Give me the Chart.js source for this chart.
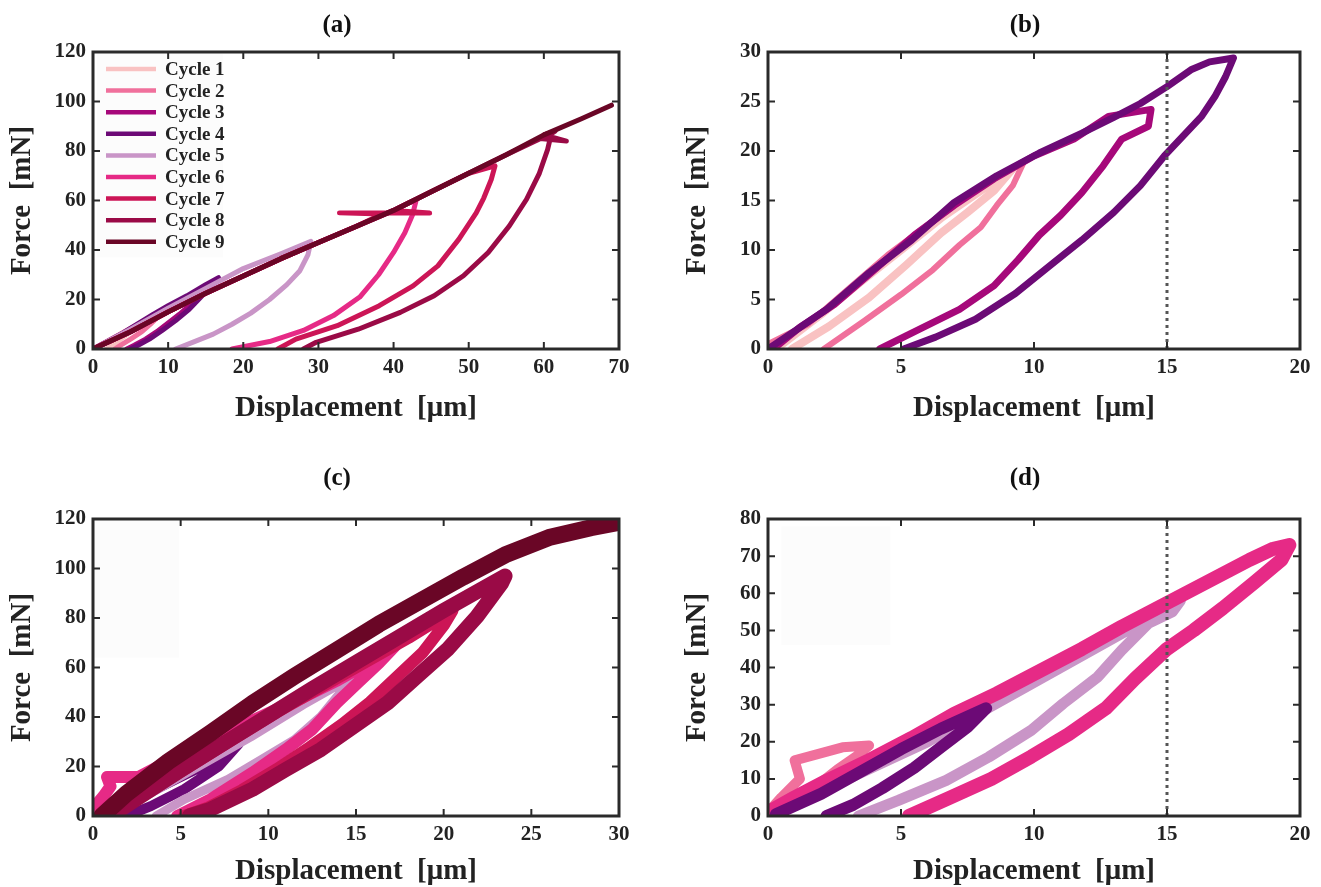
<!DOCTYPE html>
<html>
<head>
<meta charset="utf-8">
<script src="https://cdn.jsdelivr.net/npm/chart.js@4.4.1/dist/chart.umd.min.js"></script>
<style>
  html, body { margin: 0; padding: 0; background: #fff; overflow: hidden; }
  #wrap { position: relative; width: 1321px; height: 887px; overflow: hidden; }
  canvas { position: absolute; }
</style>
</head>
<body>
<div id="wrap">
  <canvas id="chartA" width="674" height="440" style="left:0px;top:0px"></canvas>
  <canvas id="chartB" width="698" height="440" style="left:676px;top:0px"></canvas>
  <canvas id="chartC" width="674" height="447" style="left:0px;top:440px"></canvas>
  <canvas id="chartD" width="698" height="447" style="left:676px;top:440px"></canvas>
</div>
<script>
// ---- data: [displacement um, force mN] ----
const cycleLabels = ['Cycle 1', 'Cycle 2', 'Cycle 3', 'Cycle 4', 'Cycle 5', 'Cycle 6', 'Cycle 7', 'Cycle 8', 'Cycle 9'];
const cycleColors = ['#f9c2c2', '#f0709c', '#a6087a', '#6c0a76', '#c995c7', '#e62a86', '#cc1556', '#9a0a46', '#6a0626'];

// (a) all nine cycles
const aCycle1 = [[0,0],[2,3],[4,6.5],[6,9.8],[7.2,12],[6.5,10.5],[5,7],[3.5,3.5],[1.8,0]];
const aCycle2 = [[0,0],[3,5],[6,10],[8.5,14.5],[10.5,18],[9.8,16],[9,14],[7.8,10.5],[6.5,7],[5,4],[3.8,1.8],[2.9,0]];
const aCycle3 = [[0,0],[4,6],[8,12.5],[12,19],[14.5,23.5],[14,21],[13,18],[11.5,14],[10,10.5],[8.5,7],[7,4],[5.5,1.5],[4.5,0]];
const aCycle4 = [[0,0],[4,6.5],[8,14],[10,17.5],[12.5,21.5],[15,26],[16.7,28.8],[16.2,27],[15.3,24],[14.2,20.5],[12.8,16],[11,11.5],[9.2,7.5],[7.5,4],[6,1.5],[5,0]];
const aCycle5 = [[0,0],[5,8],[10,16.5],[15,24.5],[20,32.5],[25,38.5],[29,43.5],[28.6,38],[27.5,31.5],[25.8,26],[23.5,20],[21,14.5],[18.5,10],[16,6],[13.5,3],[11,0]];
const aCycle6 = [[0,0],[5,7],[10,15],[15,22.5],[20,29.5],[25,36.5],[30,43],[35,49.5],[40,56],[42,59],[43,60],[42.5,54],[41.5,47],[40,39],[38,30],[35.5,21],[32,13.5],[28,7.5],[23.5,3],[18.5,0]];
const aCycle7 = [[0,0],[5,7],[10,15],[15,22.5],[20,29.5],[25,36.5],[30,43],[35,49.5],[38.5,54.5],[32.8,55],[44.8,55],[40,56],[45,63.5],[50,71],[53.5,74],[53,68.5],[52,61],[51,55],[48.7,44.4],[45.9,33.6],[42.6,25.5],[38.1,17.5],[32.5,9.4],[27,4],[24.6,0]];
const aCycle8 = [[0,0],[5,7],[10,15],[15,22.5],[20,29.5],[25,36.5],[30,43],[35,49.5],[40,56],[45,63.5],[50,71],[55,78.5],[59.5,85],[63,84],[60,86.5],[61.5,88],[61,87],[60.5,80.6],[59.4,71],[57.7,60.5],[55.4,49.7],[52.6,39],[49.3,29.6],[45.4,21.5],[40.9,14.8],[35.3,8],[29.7,2.7],[28,0]];
const aCycle9 = [[0,0],[5,7],[10,15],[15,22.5],[20,29.5],[25,36.5],[30,43],[35,49.5],[40,56],[45,63.5],[50,71],[55,78.5],[60,86.5],[65,93],[69,98.5]];

// (b) cycles 1-4
const bCycle1 = [[0.3,0],[2,3.5],[3.5,6.8],[5,10],[6.5,13.2],[8,16],[9.2,18.2],[8.5,16],[7.5,13.8],[6.5,11.7],[5.2,8.5],[3.8,5.2],[2.3,2.3],[0.9,0]];
const bCycle2 = [[0,0.5],[1.5,2.5],[3,6],[4.5,9.5],[6,12.5],[7.5,15.5],[9,18],[9.6,18.8],[9.2,16.5],[8.6,14.5],[8,12.3],[7.2,10.5],[6.2,8],[5,5.5],[3.6,2.8],[2.1,0]];
const bCycle3 = [[0.2,0],[1.2,2.2],[2.5,4.5],[4,8],[5.5,11.5],[7,14.5],[8.5,17.2],[10,19.5],[11.5,21.2],[12.8,23.5],[14.4,24.2],[14.3,22.5],[13.3,21.2],[12.6,18.5],[11.8,15.8],[11,13.5],[10.2,11.5],[9.4,9],[8.5,6.4],[7.2,4],[5.7,2],[4.2,0]];
const bCycle4 = [[0,0],[1,1.8],[2.2,4],[3.8,7.7],[5.4,11],[7,14.8],[8.6,17.5],[10.2,19.8],[11.8,21.8],[13,23.4],[14,24.8],[15,26.5],[15.9,28.2],[16.6,29],[17.5,29.4],[17.2,27.5],[16.8,25.5],[16.3,23.5],[15.6,21.5],[14.9,19.5],[14,16.5],[13,13.8],[11.8,11],[10.5,8.2],[9.3,5.6],[7.8,3],[6.3,1.2],[5.1,0]];

// (c) cycles 4-9
const cCycle4 = [[0.8,0],[2.5,7],[4.5,14],[6.5,21],[8.3,29],[7.2,20.2],[5.2,10.8],[3.3,4],[1.9,0]];
const cCycle5 = [[0.5,0],[3,8],[6,20],[9,32],[12,45],[15,57],[14.4,52.4],[13,40.3],[11.5,30.9],[9.6,22.8],[7.7,14.8],[5.2,6.7],[3.6,0]];
const cCycle6 = [[0,3],[0.6,8],[1,12],[0.8,15.8],[2.6,15.8],[2.4,15],[4,21],[6,28],[8,35],[10,41.5],[12,48],[14,55],[16,63],[17.6,71.5],[16.3,61.8],[15.1,53.8],[13.9,45.7],[12.5,35],[11,26.9],[9.1,17.5],[6.7,6.7],[4.8,0]];
const cCycle7 = [[1,0],[3,9],[5.5,20],[8,31],[10.5,42],[13,52],[15.5,62],[18,72],[20.5,83],[20,77],[18.8,66],[17.3,56],[15.8,46],[14.2,37],[12.4,28],[10.5,19],[8.5,10.5],[6.6,3.5],[5.2,0]];
const cCycle8 = [[1,0],[2.5,7],[5,18.5],[7.5,29.5],[10,40.5],[12.5,51.5],[15,62],[17.5,72.5],[20,83],[22,91],[23.5,97],[23.3,94],[21.9,80.6],[20.2,67.2],[18.5,56.5],[16.8,45.7],[14.9,36.3],[13,26.9],[11,18.8],[9.1,10.8],[6.7,2.7],[5.5,0]];
const cCycle9 = [[0.5,0],[1.9,9],[4.3,22],[6.7,33.5],[9.1,45.5],[11.5,56.5],[13.9,67],[16.3,77.5],[18.7,87],[21.1,96.5],[23.5,105.5],[26,112.5],[28.4,116.5],[29.9,118.5]];

// (d) cycles 2, 4, 5, 6
const dCycle2 = [[0,1],[0.5,5],[1.2,10],[1,15],[2.8,18.5],[3.8,19],[3.4,16.5],[2.6,12.5],[1.9,8.5],[1.2,4.5],[0.5,1.5],[0.1,0]];
const dCycle4 = [[0.3,0.5],[2,6],[3.5,12],[5,18],[6.5,23.5],[8.2,29],[7.5,24],[6.5,18.5],[5.5,13],[4.3,7.5],[3.2,3],[2.2,0]];
const dCycle5 = [[0,0],[1.5,5],[3,10],[4.5,15],[6,20],[7.5,26],[9,32],[10.5,38],[12,44],[13.5,50],[15,56],[15.5,58],[15.2,55],[14.3,51.9],[13.3,44.7],[12.4,37.5],[11.1,30.3],[9.9,23.1],[8.3,15.9],[6.7,9.6],[4.9,4.2],[3.4,0]];
const dCycle6 = [[0,1],[1,5],[2.2,9.5],[3.8,15],[5.4,21],[7,27.5],[8.6,33],[10.2,39],[11.8,45],[13.3,51],[14.9,57],[16.5,63],[18.1,69],[19,72],[19.6,73],[19.3,69],[18.3,63],[17.1,56],[16,50],[15,45],[13.8,37],[12.7,29],[11.3,22],[9.9,16],[8.4,10],[6.8,4.8],[5.3,0]];

// dotted reference line at 15 um in (b) and (d)
const refLineX = 15;

const SERIF = "'Liberation Serif', 'Times New Roman', serif";
const INK = '#222';

function toXY(arr) {
  return arr.map(p => ({ x: p[0], y: p[1] }));
}

function cycleSet(arr, cycleIdx, width) {
  return {
    label: cycleLabels[cycleIdx],
    data: toXY(arr),
    borderColor: cycleColors[cycleIdx],
    borderWidth: width,
    showLine: true,
    pointRadius: 0,
    tension: 0,
    borderJoinStyle: 'round',
    borderCapStyle: 'round',
  };
}

function refSet(yMax) {
  return {
    label: 'ref',
    data: [{ x: refLineX, y: 0 }, { x: refLineX, y: yMax }],
    borderColor: '#555',
    borderWidth: 3,
    borderDash: [3, 4],
    showLine: true,
    pointRadius: 0,
  };
}

// frame + inward tick marks on all four sides (box on)
const frameTicks = {
  id: 'frameTicks',
  afterDatasetsDraw(chart) {
    const { ctx, chartArea, scales } = chart;
    const { left, right, top, bottom } = chartArea;
    const x = scales.x, y = scales.y;
    ctx.save();
    ctx.strokeStyle = '#2a2a2a';
    ctx.lineWidth = 2;
    ctx.beginPath();
    x.ticks.forEach(t => {
      const px = x.getPixelForValue(t.value);
      ctx.moveTo(px, bottom); ctx.lineTo(px, bottom - 7);
      ctx.moveTo(px, top); ctx.lineTo(px, top + 7);
    });
    y.ticks.forEach(t => {
      const py = y.getPixelForValue(t.value);
      ctx.moveTo(left, py); ctx.lineTo(left + 7, py);
      ctx.moveTo(right, py); ctx.lineTo(right - 7, py);
    });
    ctx.stroke();
    ctx.lineWidth = 3;
    ctx.strokeRect(left, top, right - left, bottom - top);
    ctx.restore();
  }
};

// faint box left over from a legend (drawn behind the data)
const shadeBox = {
  id: 'shadeBox',
  beforeDatasetsDraw(chart, args, opts) {
    if (!opts.box) return;
    const { ctx, scales: { x, y } } = chart;
    const [x0, y0, x1, y1] = opts.box;
    ctx.save();
    ctx.fillStyle = '#fcfcfc';
    const px0 = x.getPixelForValue(x0), px1 = x.getPixelForValue(x1);
    const py0 = y.getPixelForValue(y1), py1 = y.getPixelForValue(y0);
    ctx.fillRect(px0, py0, px1 - px0, py1 - py0);
    ctx.restore();
  }
};

// legend inside panel (a)
const cycleLegend = {
  id: 'cycleLegend',
  afterDraw(chart, args, opts) {
    if (!opts.show) return;
    const { ctx, chartArea } = chart;
    const x0 = chartArea.left + 13;
    const y0 = chartArea.top + 17;
    ctx.save();
    ctx.font = 'bold 19px ' + SERIF;
    ctx.textBaseline = 'middle';
    ctx.fillStyle = INK;
    cycleLabels.forEach((lab, i) => {
      const yy = y0 + i * 21.6;
      ctx.strokeStyle = cycleColors[i];
      ctx.lineWidth = 4.5;
      ctx.beginPath();
      ctx.moveTo(x0, yy);
      ctx.lineTo(x0 + 50, yy);
      ctx.stroke();
      ctx.fillText(lab, x0 + 59, yy + 1);
    });
    ctx.restore();
  }
};

function makeChart(id, cfg) {
  const tickFont = { family: SERIF, size: 21, weight: 'bold' };
  const axisFont = { family: SERIF, size: 29, weight: 'bold', lineHeight: 1.1 };
  return new Chart(document.getElementById(id), {
    type: 'scatter',
    data: { datasets: cfg.datasets },
    options: {
      responsive: false,
      animation: false,
      devicePixelRatio: 1,
      layout: { padding: 0 },
      plugins: {
        legend: { display: false },
        tooltip: { enabled: false },
        title: {
          display: true,
          text: cfg.title,
          color: '#111',
          font: { family: SERIF, size: 25, weight: 'bold', lineHeight: 1.2 },
          padding: cfg.titlePad,
        },
        shadeBox: { box: cfg.box || null },
        cycleLegend: { show: !!cfg.legend },
      },
      scales: {
        x: {
          type: 'linear',
          min: 0,
          max: cfg.xMax,
          ticks: { stepSize: cfg.xStep, autoSkip: false, maxRotation: 0, padding: 6, color: INK, font: tickFont },
          grid: { display: false, drawTicks: false },
          border: { display: false },
          title: { display: true, text: 'Displacement  [μm]', color: INK, font: axisFont, padding: { top: 0, bottom: cfg.xTitlePad } },
          afterFit: s => { s.height = cfg.xHeight; },
        },
        y: {
          type: 'linear',
          min: 0,
          max: cfg.yMax,
          ticks: { stepSize: cfg.yStep, autoSkip: false, padding: 7, color: INK, font: tickFont },
          grid: { display: false, drawTicks: false },
          border: { display: false },
          title: { display: true, text: 'Force  [mN]', color: INK, font: axisFont, padding: { top: cfg.yTitlePad, bottom: 0 } },
          afterFit: s => { s.width = cfg.yWidth; },
        },
        y2: {
          type: 'linear',
          position: 'right',
          display: true,
          ticks: { display: false },
          grid: { display: false, drawTicks: false },
          border: { display: false },
          afterFit: s => { s.width = cfg.rightWidth; },
        },
      },
    },
    plugins: [shadeBox, frameTicks, cycleLegend],
  });
}

// (a)
makeChart('chartA', {
  title: '(a)',
  titlePad: { top: 11, bottom: 11 },
  xMax: 70, xStep: 10, yMax: 120, yStep: 20,
  xHeight: 91, xTitlePad: 16, yWidth: 93, yTitlePad: 7, rightWidth: 55,
  legend: true,
  box: [0.5, 37, 17.3, 119.3],
  datasets: [
    cycleSet(aCycle1, 0, 5),
    cycleSet(aCycle2, 1, 5),
    cycleSet(aCycle3, 2, 5),
    cycleSet(aCycle4, 3, 5),
    cycleSet(aCycle5, 4, 5),
    cycleSet(aCycle6, 5, 5),
    cycleSet(aCycle7, 6, 5),
    cycleSet(aCycle8, 7, 5),
    cycleSet(aCycle9, 8, 5),
  ].map((d, i, all) => Object.assign(d, { order: all.length - i })),
});

// (b)
makeChart('chartB', {
  title: '(b)',
  titlePad: { top: 11, bottom: 11 },
  xMax: 20, xStep: 5, yMax: 30, yStep: 5,
  xHeight: 91, xTitlePad: 16, yWidth: 92, yTitlePad: 6, rightWidth: 74,
  datasets: [
    Object.assign(refSet(30), { order: 0 }),
    Object.assign(cycleSet(bCycle1, 0, 8), { order: 4 }),
    Object.assign(cycleSet(bCycle2, 1, 6), { order: 3 }),
    Object.assign(cycleSet(bCycle3, 2, 7), { order: 2 }),
    Object.assign(cycleSet(bCycle4, 3, 7), { order: 1 }),
  ],
});

// (c)
makeChart('chartC', {
  title: '(c)',
  titlePad: { top: 24, bottom: 25 },
  xMax: 30, xStep: 5, yMax: 120, yStep: 20,
  xHeight: 71, xTitlePad: 0, yWidth: 93, yTitlePad: 7, rightWidth: 55,
  box: [0.1, 64, 4.9, 119.5],
  datasets: [
    Object.assign(cycleSet(cCycle4, 3, 10), { order: 6 }),
    Object.assign(cycleSet(cCycle5, 4, 9), { order: 5 }),
    Object.assign(cycleSet(cCycle6, 5, 12), { order: 4 }),
    Object.assign(cycleSet(cCycle7, 6, 12), { order: 3 }),
    Object.assign(cycleSet(cCycle8, 7, 15), { order: 2 }),
    Object.assign(cycleSet(cCycle9, 8, 17), { order: 1 }),
  ],
});

// (d)
makeChart('chartD', {
  title: '(d)',
  titlePad: { top: 24, bottom: 25 },
  xMax: 20, xStep: 5, yMax: 80, yStep: 10,
  xHeight: 71, xTitlePad: 0, yWidth: 92, yTitlePad: 6, rightWidth: 74,
  box: [0.5, 46, 4.6, 78],
  datasets: [
    Object.assign(refSet(80), { order: 0 }),
    Object.assign(cycleSet(dCycle2, 1, 10), { order: 4 }),
    Object.assign(cycleSet(dCycle5, 4, 11), { order: 3 }),
    Object.assign(cycleSet(dCycle6, 5, 14), { order: 2 }),
    Object.assign(cycleSet(dCycle4, 3, 12), { order: 1 }),
  ],
});
</script>
</body>
</html>
